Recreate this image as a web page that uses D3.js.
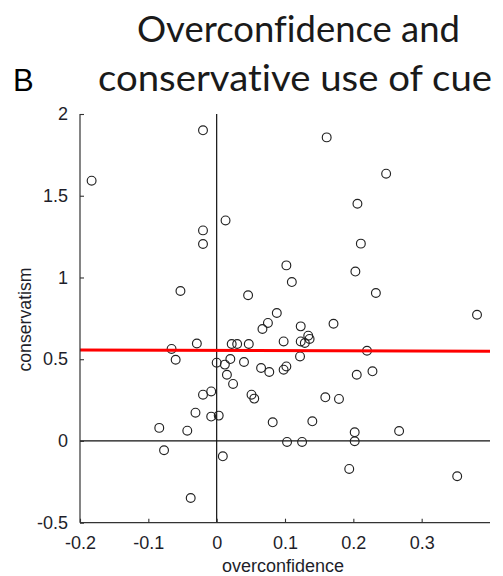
<!DOCTYPE html>
<html>
<head>
<meta charset="utf-8">
<script src="https://cdn.jsdelivr.net/npm/d3@7"></script>
<style>
  html, body { margin: 0; padding: 0; background: #fff; }
  svg { display: block; }
  text { font-variant-ligatures: none; }
</style>
</head>
<body>
<svg id="chart" width="503" height="576"></svg>
<script>
// Per-participant scores: overconfidence (x) and conservatism (y)
const overconfidence = [
  -0.183, -0.020, 0.013, -0.020, -0.020, -0.053, 0.046, 0.088, 0.161, 0.248,
  0.206, 0.211, 0.102, 0.203, 0.110, 0.233, 0.381, 0.075, 0.067, 0.123,
  0.171, 0.098, 0.123, 0.134, 0.136, 0.129, 0.122, 0.220, 0.022, 0.030,
  0.047, 0.020, 0.040, 0.012, 0.015, 0.024, 0.065, 0.077, 0.098, 0.102,
  0.000, -0.066, -0.060, -0.029, -0.020, -0.008, -0.031, -0.008, 0.003, -0.084,
  -0.043, -0.077, 0.009, -0.038, 0.051, 0.055, 0.082, 0.140, 0.159, 0.179,
  0.205, 0.228, 0.202, 0.202, 0.103, 0.125, 0.267, 0.194, 0.352
];
const conservatism = [
  1.592, 1.900, 1.349, 1.288, 1.205, 0.917, 0.891, 0.783, 1.857, 1.635,
  1.451, 1.207, 1.074, 1.036, 0.972, 0.905, 0.772, 0.722, 0.685, 0.701,
  0.717, 0.609, 0.609, 0.644, 0.624, 0.599, 0.517, 0.552, 0.593, 0.593,
  0.593, 0.501, 0.483, 0.467, 0.405, 0.349, 0.446, 0.422, 0.436, 0.456,
  0.479, 0.563, 0.497, 0.596, 0.283, 0.303, 0.173, 0.149, 0.155, 0.080,
  0.063, -0.057, -0.094, -0.349, 0.283, 0.259, 0.114, 0.120, 0.267, 0.257,
  0.405, 0.426, 0.053, -0.002, -0.006, -0.006, 0.061, -0.171, -0.216
];
// Fitted trend line endpoints
const fitX = [-0.2, 0.4];
const fitY = [0.557, 0.548];
// Tick values and labels
const xTicks = [-0.2, -0.1, 0, 0.1, 0.2, 0.3];
const xTickLabels = ["-0.2", "-0.1", "0", "0.1", "0.2", "0.3"];
const yTicks = [-0.5, 0, 0.5, 1, 1.5, 2];
const yTickLabels = ["-0.5", "0", "0.5", "1", "1.5", "2"];
const titleLines = ["Overconfidence and", "conservative use of cue"];
const panelLabel = "B";
const xLabel = "overconfidence";
const yLabel = "conservatism";

const svg = d3.select("#chart");
const plotLeft = 80, plotRight = 490, plotTop = 114, plotBottom = 522.7;

const x = d3.scaleLinear().domain([-0.2, 0.4]).range([plotLeft, plotRight]);
const y = d3.scaleLinear().domain([-0.5, 2]).range([plotBottom, plotTop]);

const points = overconfidence.map((v, i) => ({ x: v, y: conservatism[i] }));

// Reference lines at zero
svg.append("line")
  .attr("x1", x(0)).attr("x2", x(0))
  .attr("y1", y(2)).attr("y2", y(-0.5))
  .attr("stroke", "#111").attr("stroke-width", 1.2);
svg.append("line")
  .attr("x1", x(-0.2)).attr("x2", x(0.4))
  .attr("y1", y(0)).attr("y2", y(0))
  .attr("stroke", "#111").attr("stroke-width", 1.2);

// Scatter markers
svg.append("g")
  .selectAll("circle")
  .data(points)
  .join("circle")
  .attr("cx", d => x(d.x))
  .attr("cy", d => y(d.y))
  .attr("r", 4.4)
  .attr("fill", "none")
  .attr("stroke", "#222")
  .attr("stroke-width", 1.15);

// Trend line
svg.append("line")
  .attr("x1", x(fitX[0])).attr("x2", x(fitX[1]))
  .attr("y1", y(fitY[0])).attr("y2", y(fitY[1]))
  .attr("stroke", "#ff0000").attr("stroke-width", 3);

// Axes with inward ticks
const tickFont = "'Liberation Sans', Arial, sans-serif";
const xAxis = d3.axisBottom(x)
  .tickValues(xTicks)
  .tickFormat((d, i) => xTickLabels[i])
  .tickSizeInner(-4).tickSizeOuter(0).tickPadding(14);
const gx = svg.append("g")
  .attr("transform", `translate(0,${plotBottom})`)
  .call(xAxis);
gx.select(".domain").attr("stroke", "#333").attr("stroke-width", 1.2)
  .attr("d", `M${plotLeft},0H${plotRight}`);
gx.selectAll(".tick line").attr("stroke", "#333").attr("stroke-width", 1.1);
gx.selectAll(".tick text")
  .attr("font-family", tickFont).attr("font-size", 18)
  .attr("fill", "#1e1e2a");

const yAxis = d3.axisLeft(y)
  .tickValues(yTicks)
  .tickFormat((d, i) => yTickLabels[i])
  .tickSizeInner(-4).tickSizeOuter(0).tickPadding(12);
const gy = svg.append("g")
  .attr("transform", `translate(${plotLeft},0)`)
  .call(yAxis);
gy.select(".domain").attr("stroke", "#333").attr("stroke-width", 1.2)
  .attr("d", `M0,${plotTop}V${plotBottom}`);
gy.selectAll(".tick line").attr("stroke", "#333").attr("stroke-width", 1.1);
gy.selectAll(".tick text")
  .attr("font-family", tickFont).attr("font-size", 18)
  .attr("fill", "#1e1e2a");

// Axis labels
svg.append("text")
  .attr("x", 283).attr("y", 572)
  .attr("text-anchor", "middle")
  .attr("font-family", tickFont).attr("font-size", 18)
  .attr("fill", "#1e1e2a")
  .text(xLabel);
svg.append("text")
  .attr("transform", "translate(30.5,319.5) rotate(-90)")
  .attr("text-anchor", "middle")
  .attr("font-family", tickFont).attr("font-size", 17.7)
  .attr("fill", "#1e1e2a")
  .text(yLabel);

// Title and panel letter
const titleFont = "Lato, 'Open Sans', sans-serif";
const titleSpec = [
  { text: titleLines[0], cx: 298.5, base: 42, w: 323 },
  { text: titleLines[1], cx: 295, base: 91, w: 394 }
];
titleSpec.forEach(t => {
  svg.append("text")
    .attr("x", t.cx).attr("y", t.base)
    .attr("text-anchor", "middle")
    .attr("font-family", titleFont).attr("font-size", 37)
    .attr("fill", "#1a1a1a")
    .attr("textLength", t.w).attr("lengthAdjust", "spacingAndGlyphs")
    .text(t.text);
});
svg.append("text")
  .attr("x", 13).attr("y", 91)
  .attr("font-family", tickFont).attr("font-size", 31)
  .attr("fill", "#000")
  .text(panelLabel);
</script>
</body>
</html>
